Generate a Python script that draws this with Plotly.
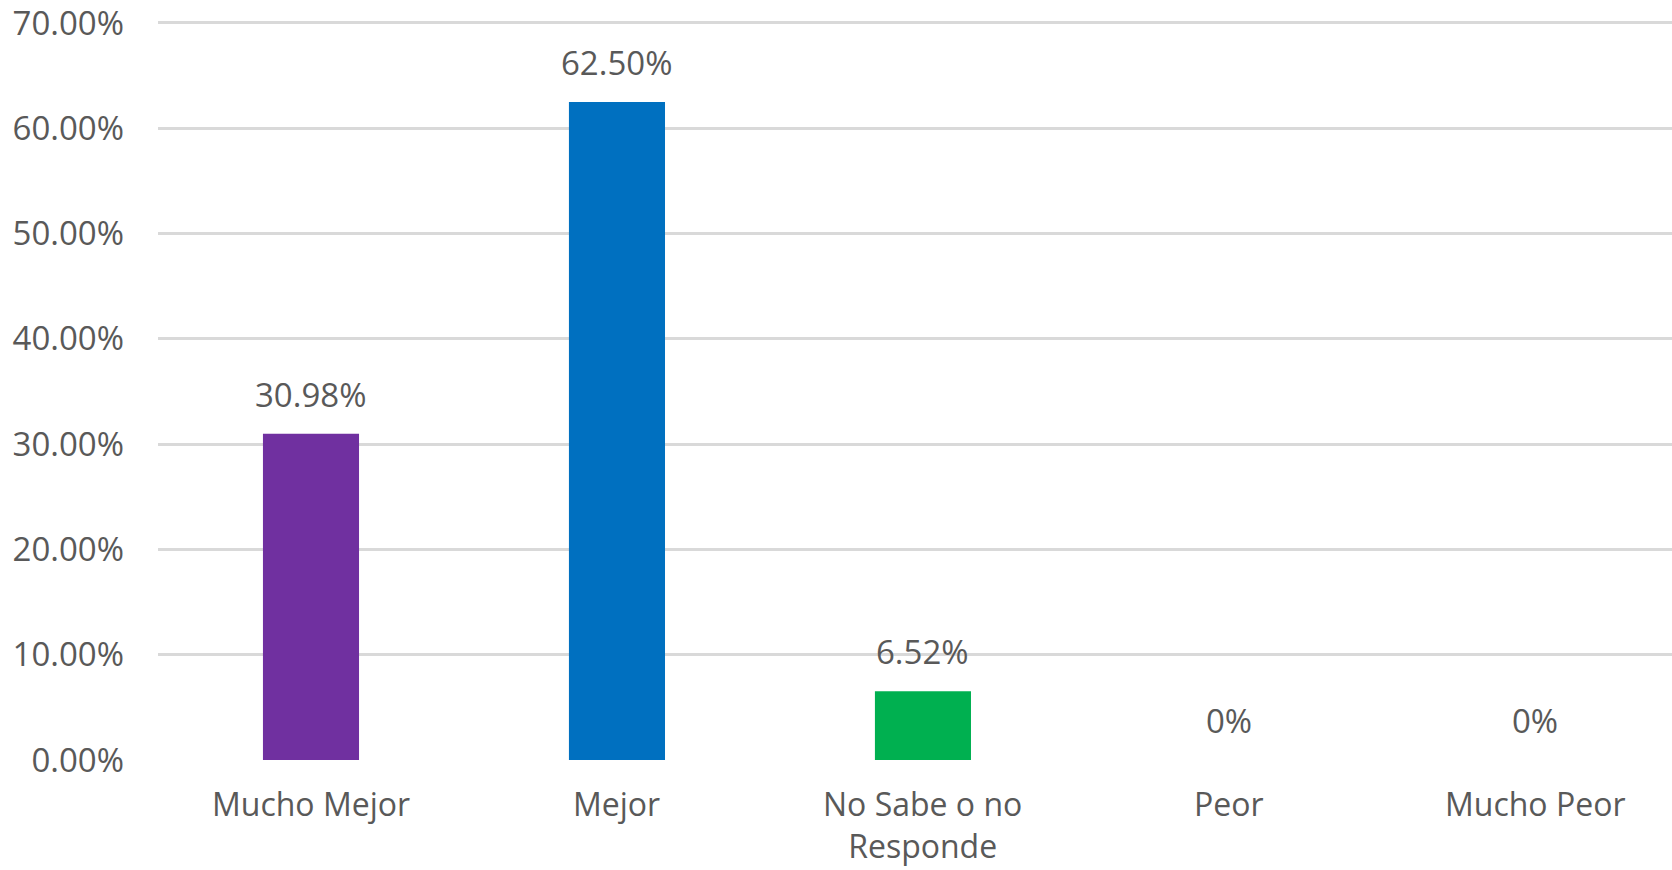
import plotly.graph_objects as go

categories = ["Mucho Mejor", "Mejor", "No Sabe o no Responde", "Peor", "Mucho Peor"]
category_text = ["Mucho Mejor", "Mejor", "No Sabe o no<br>Responde", "Peor", "Mucho Peor"]
values = [30.98, 62.50, 6.52, 0, 0]
value_labels = ["30.98%", "62.50%", "6.52%", "0%", "0%"]
bar_colors = ["#7030A0", "#0070C0", "#00B050", "#A5A5A5", "#FFC000"]
y_ticks = [0, 10, 20, 30, 40, 50, 60, 70]

font_family = "'Open Sans', Lato, sans-serif"
text_color = "#595959"
fsize = 33

fig = go.Figure(
    go.Bar(
        x=categories,
        y=values,
        marker=dict(color=bar_colors, line=dict(width=0)),
        width=0.314,
        hoverinfo="skip",
    )
)

# value labels above each bar
for cat, val, lab in zip(categories, values, value_labels):
    fig.add_annotation(
        x=cat, y=val, text=lab, showarrow=False,
        yanchor="bottom", yshift=16, borderpad=0,
        font=dict(family=font_family, size=fsize, color=text_color),
    )

# category labels under the axis
for cat, txt in zip(categories, category_text):
    fig.add_annotation(
        x=cat, y=0, text=txt, showarrow=False,
        yanchor="top", yshift=-21, borderpad=0,
        font=dict(family=font_family, size=32, color=text_color),
    )

fig.update_layout(
    width=1672, height=870,
    margin=dict(l=158, r=0, t=20, b=110),
    paper_bgcolor="white", plot_bgcolor="white",
    showlegend=False,
    font=dict(family=font_family, size=fsize, color=text_color),
)
fig.update_xaxes(
    range=[-0.5, 4.448],
    showgrid=False, showline=False, zeroline=False,
    ticks="", showticklabels=False,
)
fig.update_yaxes(
    range=[0, 70.28], tickvals=y_ticks,
    ticktext=[f"{v:.2f}%" for v in y_ticks],
    showgrid=True, gridcolor="#D9D9D9", gridwidth=2.5,
    zeroline=False, showline=False, ticks="",
    ticklabelstandoff=33, ticklabeloverflow="allow",
    tickfont=dict(family=font_family, size=fsize, color=text_color),
)

fig.write_html("out.html")
